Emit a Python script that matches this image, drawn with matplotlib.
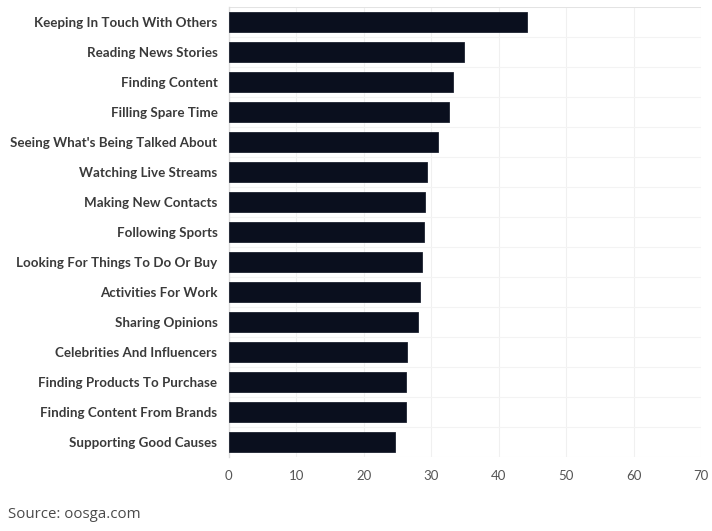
import matplotlib
matplotlib.use("Agg")
import matplotlib.pyplot as plt

# reasons for using social media, share of respondents (%)
reasons = [
    "Keeping In Touch With Others",
    "Reading News Stories",
    "Finding Content",
    "Filling Spare Time",
    "Seeing What's Being Talked About",
    "Watching Live Streams",
    "Making New Contacts",
    "Following Sports",
    "Looking For Things To Do Or Buy",
    "Activities For Work",
    "Sharing Opinions",
    "Celebrities And Influencers",
    "Finding Products To Purchase",
    "Finding Content From Brands",
    "Supporting Good Causes",
]
share = [44.2, 34.8, 33.2, 32.7, 31.0, 29.4, 29.1, 29.0, 28.7, 28.4, 28.0, 26.4, 26.3, 26.2, 24.7]
xticks = [0, 10, 20, 30, 40, 50, 60, 70]

fig = plt.figure(figsize=(7.12, 5.31), dpi=100, facecolor="white")
ax = fig.add_axes([0.321, 0.139, 0.664, 0.848])

ypos = list(range(len(reasons)))
ax.barh(ypos, share, height=0.68, color="#0a0f1e", edgecolor="#1c2230", linewidth=0.6, zorder=3)
ax.set_ylim(len(reasons) - 0.5, -0.5)
ax.set_xlim(0, 70)

ax.set_yticks(ypos)
ax.set_yticklabels(reasons, family="Lato", fontweight="bold", fontsize=9.65, color="#3a3a3a")
ax.set_xticks(xticks)
ax.set_xticklabels([str(t) for t in xticks], family="Lato", fontsize=9.5, color="#555555")
ax.tick_params(axis="y", length=0, pad=8)
ax.tick_params(axis="x", length=0, pad=9)

# faint grid: vertical at ticks, horizontal between category bands
for t in xticks[1:]:
    ax.axvline(t, color="#f0f0f0", lw=0.8, zorder=0)
for b in [i - 0.5 for i in range(len(reasons) + 1)]:
    ax.axhline(b, color="#f3f3f3", lw=0.8, zorder=0)
ax.axhline(-0.5, color="#e0e0e0", lw=1.2, zorder=1)

for s in ["top", "right", "bottom"]:
    ax.spines[s].set_visible(False)
ax.spines["left"].set_color("#dcdcdc")
ax.spines["left"].set_linewidth(1.0)

fig.text(0.011, 0.031, "Source: oosga.com", family="Open Sans", fontsize=10.8, color="#4a4a4a", va="center")

fig.savefig("out.png", dpi=100, facecolor="white")
